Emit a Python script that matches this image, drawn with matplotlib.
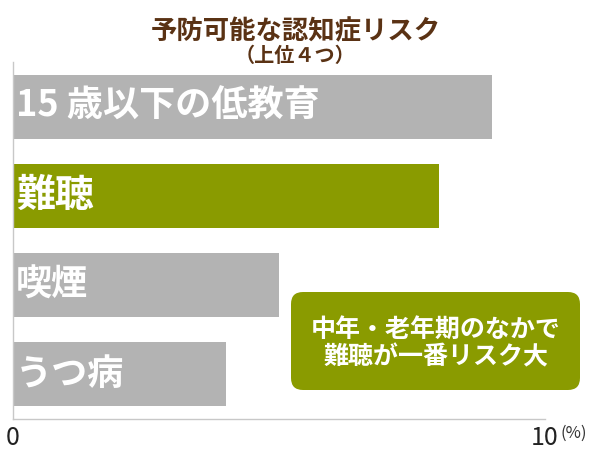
import matplotlib
matplotlib.use('Agg')
import matplotlib.pyplot as plt
from matplotlib.patches import FancyBboxPatch

plt.rcParams['font.family'] = ['Noto Sans CJK JP', 'DejaVu Sans']

# データ（上から順）
categories = ['15 歳以下の低教育', '難聴', '喫煙', 'うつ病']
values = [9.0, 8.0, 5.0, 4.0]
highlight = '難聴'

title = '予防可能な認知症リスク'
subtitle = '（上位４つ）'
note_lines = ['中年・老年期のなかで', '難聴が一番リスク大']
tick_vals = [0, 10]
tick_labels = ['0', '10']
unit = '(%)'

GRAY = '#b3b3b3'
GREEN = '#8a9b00'
BROWN = '#5a3214'

fig = plt.figure(figsize=(6, 4.5), dpi=100)
ax = fig.add_axes([0.0217, 0.069, 0.8866, 0.793])

colors = [GREEN if c == highlight else GRAY for c in categories]
ypos = list(range(len(categories)))
ax.barh(ypos, values, height=0.72, color=colors)

for y, c in zip(ypos, categories):
    fs = 28 if c == highlight else 26
    ax.text(0.05, y, c, va='center', ha='left', color='white',
            fontsize=fs, fontweight='bold')

ax.set_xlim(0, 10)
ax.set_ylim(len(categories) - 0.5, -0.5)
ax.set_yticks([])
ax.set_xticks(tick_vals)
ax.set_xticklabels(tick_labels, fontsize=18, color='#222222')
ax.tick_params(axis='x', length=0, pad=4)
for s in ['top', 'right']:
    ax.spines[s].set_visible(False)
for s in ['left', 'bottom']:
    ax.spines[s].set_color('#c8c8c8')
    ax.spines[s].set_linewidth(1)

fig.text(0.935, 0.038, unit, fontsize=12, color='#333333', ha='left', va='center')

# タイトル
fig.text(0.4925, 0.929, title, ha='center', va='center', fontsize=19,
         fontweight='bold', color=BROWN)
fig.text(0.4925, 0.876, subtitle, ha='center', va='center', fontsize=14.5,
         fontweight='bold', color=BROWN)

# 注記ボックス
box = FancyBboxPatch((2.91, 0.60), 2.89, 0.98,
                     boxstyle='round,pad=0,rounding_size=0.12',
                     transform=fig.dpi_scale_trans, facecolor=GREEN,
                     edgecolor='none', zorder=5)
fig.patches.append(box)
fig.text(4.355, 1.20, note_lines[0], transform=fig.dpi_scale_trans,
         ha='center', va='center', fontsize=18, fontweight='bold',
         color='white', zorder=6)
fig.text(4.355, 0.93, note_lines[1], transform=fig.dpi_scale_trans,
         ha='center', va='center', fontsize=18, fontweight='bold',
         color='white', zorder=6)

fig.savefig('out.png', dpi=100)
